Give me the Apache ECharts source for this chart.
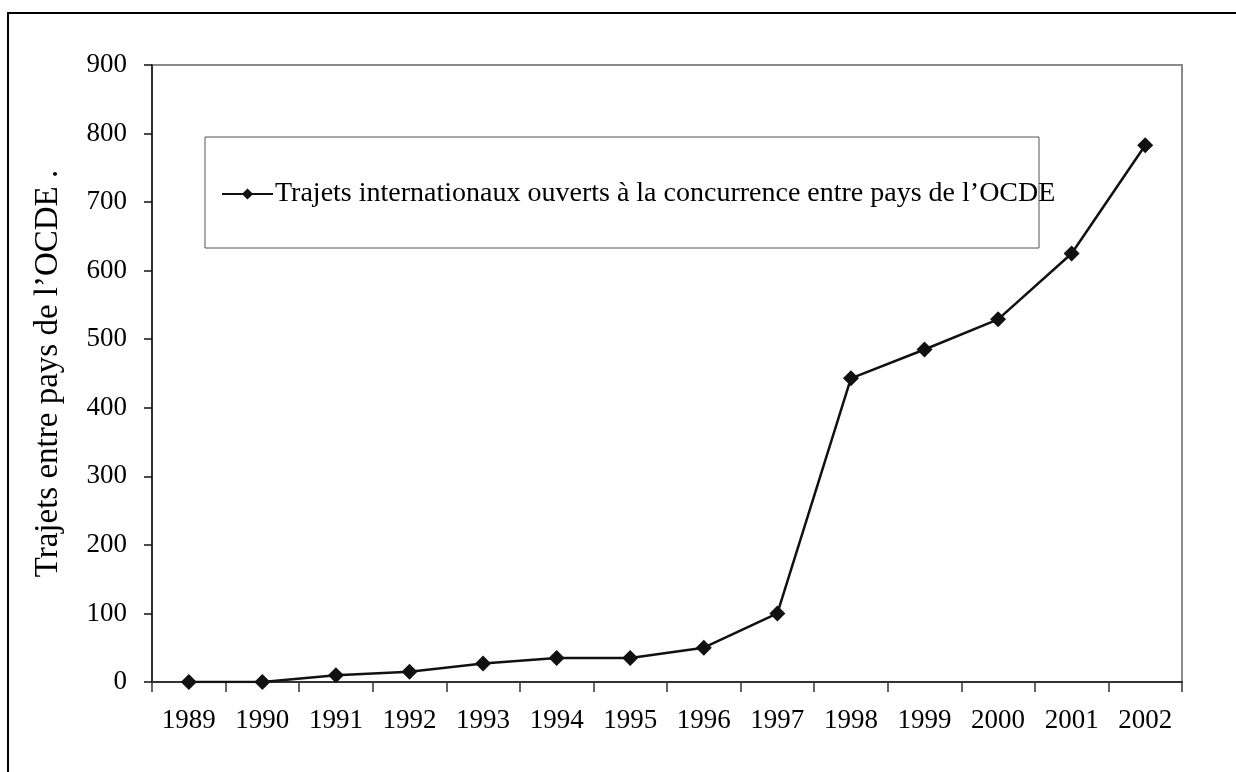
<!DOCTYPE html>
<html>
<head>
<meta charset="utf-8">
<script src="https://cdn.jsdelivr.net/npm/echarts@6/dist/echarts.min.js"></script>
<style>
  html, body { margin: 0; padding: 0; background: #fff; }
  #main { width: 1236px; height: 772px; }
</style>
</head>
<body>
<div id="main"></div>
<script>
// années et valeurs
const years = ["1989", "1990", "1991", "1992", "1993", "1994", "1995",
  "1996", "1997", "1998", "1999", "2000", "2001", "2002"];
const trajets = [0, 0, 10, 15, 27, 35, 35, 50, 100, 443, 485, 529, 625, 783];
const seriesName = "Trajets internationaux ouverts à la concurrence entre pays de l’OCDE";
const yTitle = "Trajets entre pays de l’OCDE .";

const font = "'Liberation Serif', 'Times New Roman', serif";
const chart = echarts.init(document.getElementById("main"));

chart.setOption({
  animation: false,
  backgroundColor: "#fff",
  textStyle: { fontFamily: font },
  graphic: [
    {
      // cadre extérieur (coupé à droite et en bas)
      type: "rect",
      shape: { x: 8, y: 13, width: 1300, height: 800 },
      style: { fill: "none", stroke: "#000", lineWidth: 2 },
      silent: true,
      z: 0,
    },
    {
      // boîte de la légende
      type: "rect",
      shape: { x: 205, y: 137, width: 834, height: 111 },
      style: { fill: "#fff", stroke: "#555", lineWidth: 1 },
      silent: true,
      z: 5,
    },
  ],
  grid: {
    left: 152,
    right: 54,
    top: 65,
    bottom: 90,
    show: true,
    borderColor: "#8a8a8a",
    borderWidth: 2,
    backgroundColor: "#fff",
  },
  legend: {
    left: 221,
    top: 180,
    itemWidth: 51,
    itemHeight: 14,
    itemGap: 0,
    padding: 0,
    z: 10,
    textStyle: { fontFamily: font, fontSize: 28, color: "#000", padding: [0, 0, 0, -3] },
    data: [seriesName],
  },
  xAxis: {
    type: "category",
    data: years,
    boundaryGap: true,
    axisLine: { show: true, lineStyle: { color: "#333", width: 2 } },
    axisTick: { show: true, inside: false, length: 10, lineStyle: { color: "#333", width: 1.5 } },
    axisLabel: { color: "#000", fontSize: 27, fontFamily: font, margin: 25 },
    splitLine: { show: false },
  },
  yAxis: {
    type: "value",
    min: 0,
    max: 900,
    interval: 100,
    name: yTitle,
    nameLocation: "middle",
    nameGap: 87,
    nameRotate: 90,
    nameTextStyle: { color: "#000", fontSize: 33, fontFamily: font },
    axisLine: { show: true, lineStyle: { color: "#111", width: 1.5 } },
    axisTick: { show: true, inside: false, length: 8, lineStyle: { color: "#111", width: 1.5 } },
    axisLabel: { color: "#000", fontSize: 27, fontFamily: font, margin: 25 },
    splitLine: { show: false },
  },
  series: [
    {
      name: seriesName,
      type: "line",
      data: trajets,
      symbol: "diamond",
      symbolSize: 16,
      showAllSymbol: true,
      itemStyle: { color: "#111" },
      lineStyle: { color: "#111", width: 2.5 },
      z: 3,
    },
  ],
});
</script>
</body>
</html>
